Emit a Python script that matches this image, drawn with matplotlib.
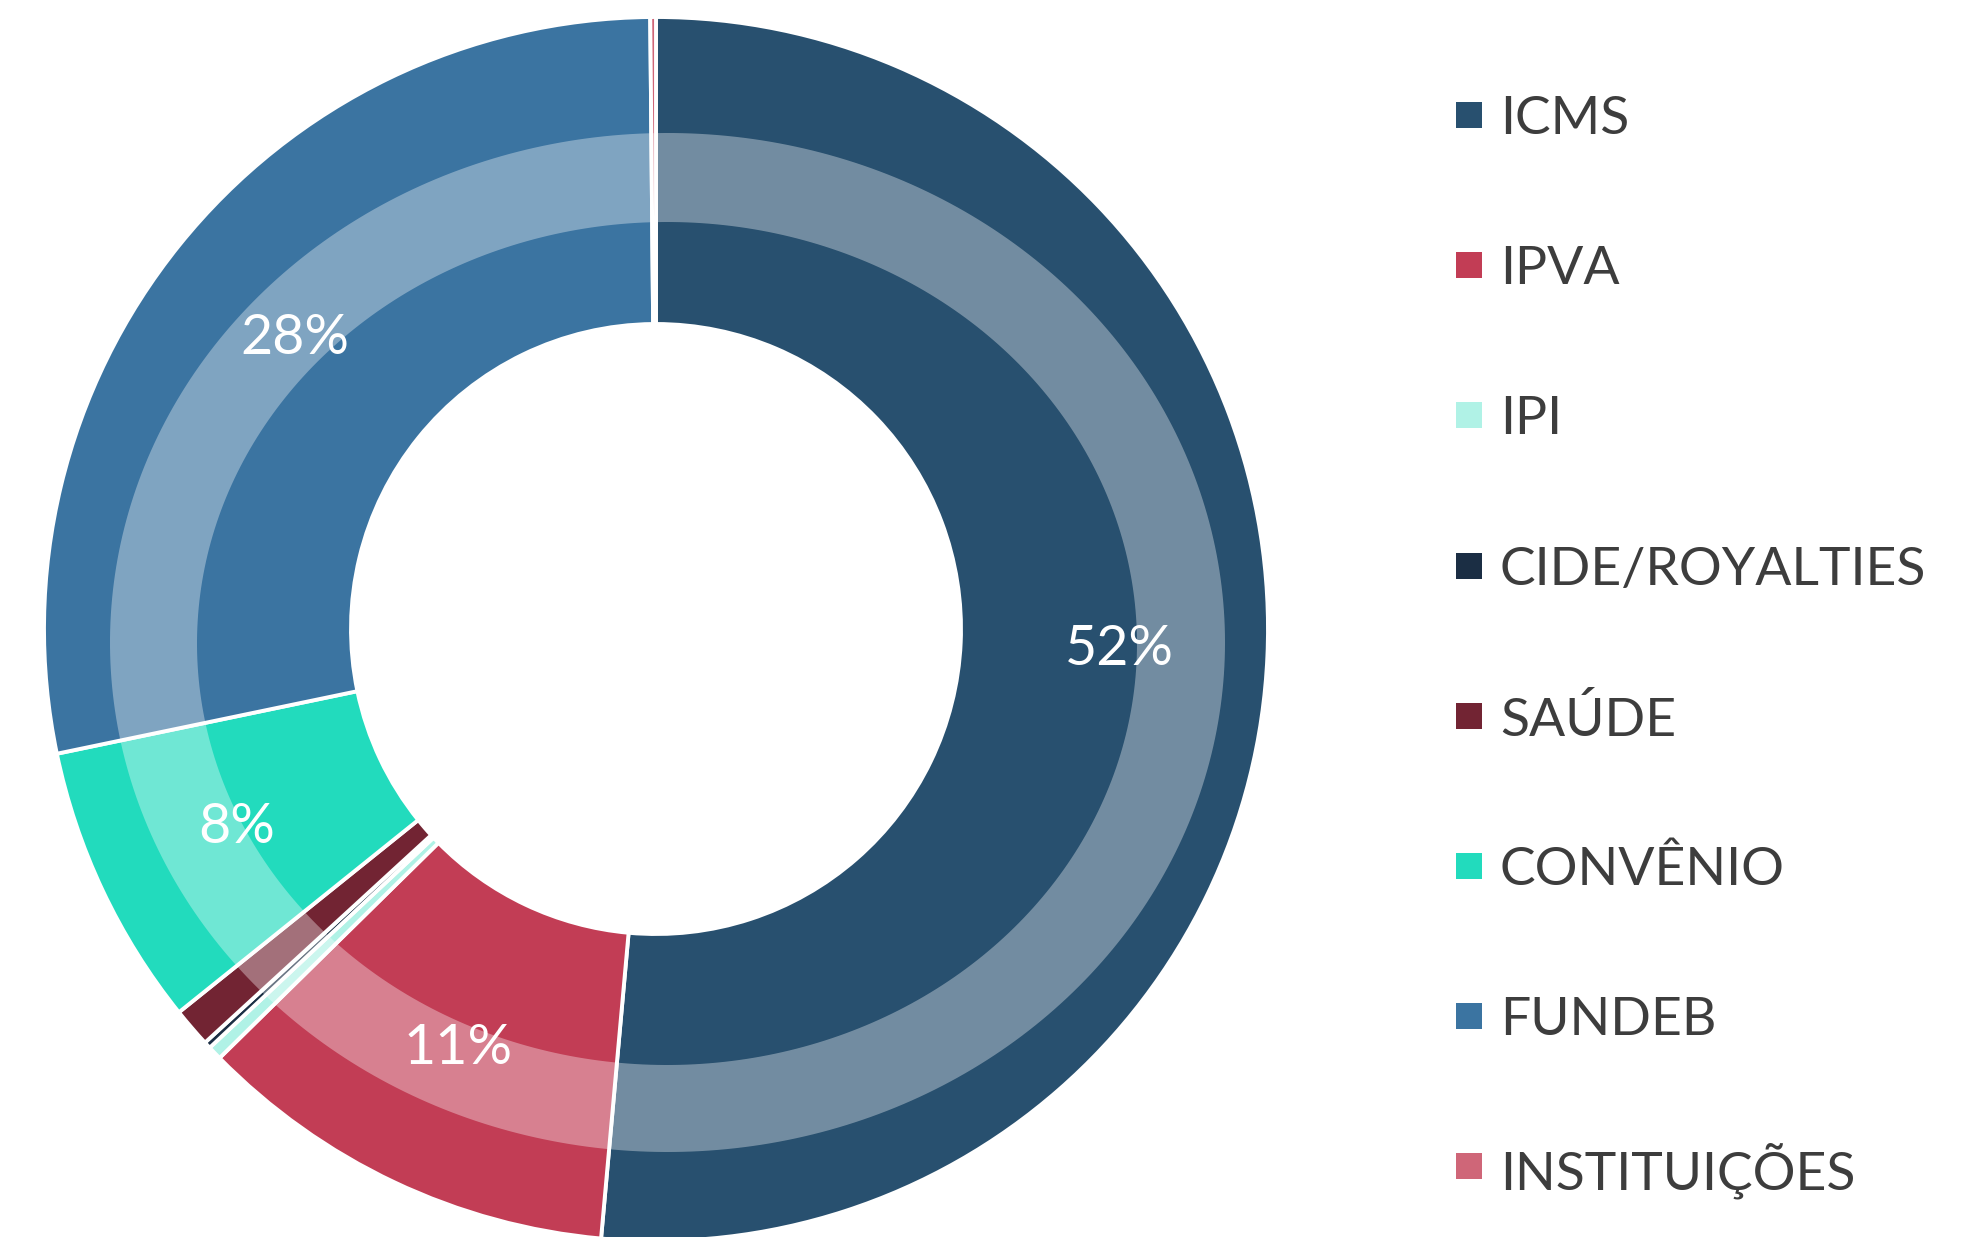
import matplotlib.pyplot as plt
import numpy as np
from matplotlib.patches import PathPatch, Rectangle
from matplotlib.path import Path

# ======================================
categories = ["ICMS", "IPVA", "IPI", "CIDE/ROYALTIES", "SAÚDE",
              "CONVÊNIO", "FUNDEB", "INSTITUIÇÕES"]
shares = [51.4, 11.2, 0.37, 0.18, 1.04, 7.5, 28.1, 0.15]
pct_labels = ["52%", "11%", "", "", "", "8%", "28%", ""]
colors = ["#28506f", "#c23d55", "#b0f2e6", "#1b2e44",
          "#722433", "#22dbbd", "#3b74a1", "#cf6678"]
# ======================================

W, H = 1968, 1237
plt.rcParams['font.family'] = ['Lato', 'DejaVu Sans']

fig = plt.figure(figsize=(W / 100, H / 100), dpi=100)
ax = fig.add_axes([0, 0, 1, 1])

cx, cy, R = 656, H - 629, 612
wedges, _ = ax.pie(shares, colors=colors, startangle=90, counterclock=False,
                   radius=R, center=(cx, cy),
                   wedgeprops=dict(width=307, edgecolor='white', linewidth=2.8))


def ellipse_pts(x0, y0, a, b, reverse=False):
    t = np.linspace(0, 2 * np.pi, 400)
    if reverse:
        t = t[::-1]
    return np.column_stack([x0 + a * np.cos(t), y0 + b * np.sin(t)])


# light band over the ring (slightly off-centre ellipse)
po = ellipse_pts(667.5, H - 642.5, 557.5, 509.5)
pi = ellipse_pts(667, H - 643.5, 470, 421.5, reverse=True)
verts = np.concatenate([po, pi])
codes = np.full(len(verts), Path.LINETO)
codes[0] = Path.MOVETO
codes[len(po)] = Path.MOVETO
band = PathPatch(Path(verts, codes), facecolor='white', alpha=0.35,
                 edgecolor='none', zorder=3)
ax.add_patch(band)

# percentage labels
for w, lab in zip(wedges, pct_labels):
    if not lab:
        continue
    ang = np.deg2rad((w.theta1 + w.theta2) / 2)
    r = R * 0.758
    ax.text(cx + r * np.cos(ang), cy + r * np.sin(ang), lab, color='white',
            fontsize=40, ha='center', va='center', zorder=4)

# legend
for i, (name, col) in enumerate(zip(categories, colors)):
    yy = H - (115 + i * 150.2)
    ax.add_patch(Rectangle((1456, yy - 13), 26, 26, facecolor=col,
                           edgecolor='none'))
    ax.text(1500, yy, name, color='#3d3d3d', fontsize=38.5,
            ha='left', va='center_baseline')

ax.set_xlim(0, W)
ax.set_ylim(0, H)
ax.set_aspect('equal')
ax.axis('off')
plt.savefig('out.png', dpi=100)
